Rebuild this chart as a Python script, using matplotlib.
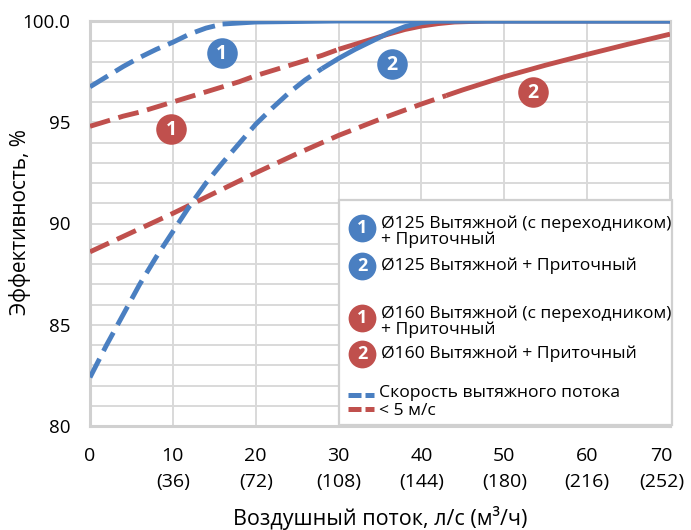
import numpy as np
import matplotlib
matplotlib.use("Agg")
import matplotlib.pyplot as plt
import matplotlib.transforms as mtrans
from matplotlib.lines import Line2D
from matplotlib.patches import Rectangle

plt.rcParams['font.family'] = ['Open Sans', 'DejaVu Sans']

# data (x = l/s, y = efficiency %)
b1_x = [0, 2, 4, 6, 8, 10, 12, 14, 16, 20, 30, 40, 50, 60, 70]
b1_y = [96.75, 97.25, 97.75, 98.2, 98.6, 98.95, 99.35, 99.65, 99.85, 99.95, 100, 100, 100, 100, 100]
b1_dash_end = 16

b2_x = [0, 2, 4, 6, 8, 10, 12, 14, 16, 18, 20, 22, 24, 26, 28, 30, 32, 34, 36, 38, 40, 42, 50, 60, 70]
b2_y = [82.4, 84.0, 85.5, 87.0, 88.35, 89.6, 90.85, 92.0, 93.0, 93.95, 94.9, 95.7, 96.45, 97.1, 97.65,
        98.15, 98.6, 99.0, 99.4, 99.72, 99.92, 100, 100, 100, 100]
b2_dash_end = 28

r1_x = [0, 2, 4, 6, 8, 10, 12, 14, 16, 18, 20, 22, 24, 26, 28, 30, 32, 34, 36, 38, 40, 42, 44, 48, 60, 70]
r1_y = [94.8, 95.05, 95.3, 95.5, 95.75, 96.0, 96.25, 96.5, 96.75, 97.0, 97.3, 97.55, 97.8, 98.05, 98.3,
        98.6, 98.85, 99.1, 99.35, 99.58, 99.75, 99.87, 99.95, 100, 100, 100]
r1_dash_end = 30

r2_x = [0, 5, 10, 15, 20, 25, 30, 35, 40, 43, 45, 50, 55, 60, 65, 70]
r2_y = [88.6, 89.55, 90.5, 91.5, 92.5, 93.45, 94.35, 95.15, 95.9, 96.32, 96.6, 97.25, 97.82, 98.35, 98.86, 99.35]
r2_dash_end = 43

x_ticks = [0, 10, 20, 30, 40, 50, 60, 70]
x_labels = ['0', '10\n(36)', '20\n(72)', '30\n(108)', '40\n(144)', '50\n(180)', '60\n(216)', '70\n(252)']
y_ticks = [80, 85, 90, 95, 100]
y_labels = ['80', '85', '90', '95', '100.0']

# badge positions on the curves
badges = [(15.9, 98.42, '1', 'blue'), (36.4, 97.9, '2', 'blue'),
          (9.8, 94.65, '1', 'red'), (53.5, 96.5, '2', 'red')]

BLUE = '#4a7fc1'
RED = '#c0504d'
GRID = '#d9d9d9'
colors = {'blue': BLUE, 'red': RED}

W, H = 691, 530
fig = plt.figure(figsize=(W / 100, H / 100), dpi=100)
ax = fig.add_axes([90 / W, 1 - 426 / H, 580 / W, 405 / H])


def draw(xs, ys, thr, color):
    xs = np.array(xs, float)
    ys = np.array(ys, float)
    m1 = xs <= thr
    m2 = xs >= thr
    ax.plot(xs[m1], ys[m1], color=color, lw=3.5, ls=(0, (4.3, 1.8)),
            dash_capstyle='butt', zorder=3)
    ax.plot(xs[m2], ys[m2], color=color, lw=3.5, solid_capstyle='butt', zorder=3)


draw(r1_x, r1_y, r1_dash_end, RED)
draw(r2_x, r2_y, r2_dash_end, RED)
draw(b2_x, b2_y, b2_dash_end, BLUE)
draw(b1_x, b1_y, b1_dash_end, BLUE)

for bx, by, num, c in badges:
    ax.plot([bx], [by], 'o', ms=22, color=colors[c], mec='none', zorder=4, clip_on=False)
    ax.text(bx, by - 0.05, num, color='white', fontsize=14, fontweight='bold',
            ha='center', va='center', zorder=5)

ax.set_xlim(0, 70)
ax.set_ylim(80, 100)
ax.set_xticks(x_ticks)
ax.set_xticklabels(x_labels, fontsize=14, linespacing=1.6)
ax.set_yticks(y_ticks)
ax.set_yticklabels(y_labels, fontsize=13.5)
ax.set_yticks(np.arange(80, 101, 1), minor=True)
ax.tick_params(length=0, which='both')
ax.tick_params(axis='y', pad=14)
ax.tick_params(axis='x', pad=15)
ax.grid(True, which='both', color=GRID, lw=1.4)
ax.set_axisbelow(True)
for s in ax.spines.values():
    s.set_color('#d0d0d0')
    s.set_linewidth(2.2)

# last tick label sits a bit to the left, as in the original
last = ax.get_xticklabels()[-1]
last.set_transform(last.get_transform() + mtrans.ScaledTranslation(-6 / 72, 0, fig.dpi_scale_trans))

ax.set_xlabel('Воздушный поток, л/с (м³/ч)', fontsize=15.5)
ax.xaxis.set_label_coords((380 - 90) / 580, -(518 - 426) / 405)
ax.set_ylabel('Эффективность, %', fontsize=15)
ax.yaxis.set_label_coords(-(90 - 20) / 580, (426 - 222) / 405)
ax.xaxis.label.set_va('center')
ax.yaxis.label.set_va('center')


# legend box, drawn by hand in pixel units of the figure
def fp(px, py):
    return px / W, 1 - py / H


x0, y0 = fp(339, 425)
x1, y1 = fp(672, 200)
fig.add_artist(Rectangle((x0, y0), x1 - x0, y1 - y0, transform=fig.transFigure,
                         facecolor='white', edgecolor='#d0d0d0', lw=1.6, zorder=6))

leg_items = [
    (228, 'blue', '1', 'Ø125 Вытяжной (с переходником)\n+ Приточный', 232),
    (266, 'blue', '2', 'Ø125 Вытяжной + Приточный', 266),
    (318, 'red', '1', 'Ø160 Вытяжной (с переходником)\n+ Приточный', 322),
    (354, 'red', '2', 'Ø160 Вытяжной + Приточный', 354),
]
for cy, c, num, label, ty in leg_items:
    fx, fy = fp(362, cy)
    fig.add_artist(Line2D([fx], [fy], marker='o', ms=20, color=colors[c], mec='none',
                          transform=fig.transFigure, zorder=7))
    fig.text(fx, fy, num, color='white', fontsize=13, fontweight='bold',
             ha='center', va='center', zorder=8)
    tx, tyf = fp(381, ty)
    fig.text(tx, tyf, label, fontsize=12.6, ha='left', va='center', linespacing=1.0, zorder=8)

for cy, c in [(395, BLUE), (409, RED)]:
    xa, ya = fp(348, cy)
    xb, _ = fp(374, cy)
    fig.add_artist(Line2D([xa, xb], [ya, ya], color=c, lw=3.6, ls=(0, (2.6, 0.8)),
                          dash_capstyle='butt', transform=fig.transFigure, zorder=7))
tx, ty = fp(379, 393)
fig.text(tx, ty, 'Скорость вытяжного потока', fontsize=12.6, ha='left', va='center', zorder=8)
tx, ty = fp(379, 411)
fig.text(tx, ty, '< 5 м/с', fontsize=12.6, ha='left', va='center', zorder=8)

fig.savefig('out.png', dpi=100)
